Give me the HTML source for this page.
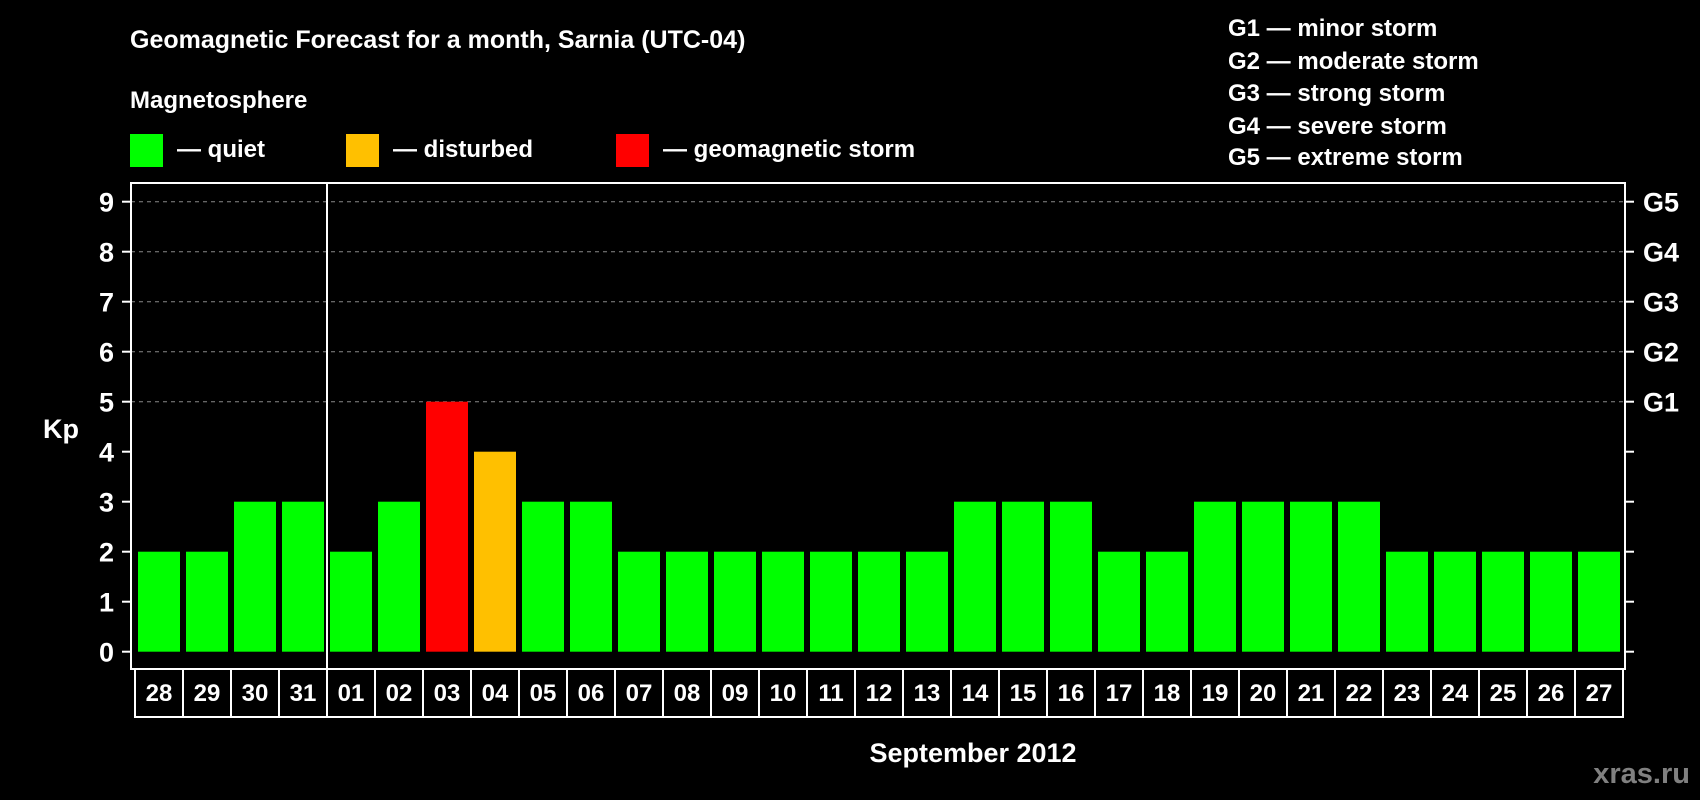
<!DOCTYPE html>
<html><head><meta charset="utf-8"><style>
html,body{margin:0;padding:0;background:#000;}
svg{display:block;font-family:"Liberation Sans",Arial,sans-serif;font-weight:bold;}
</style></head><body>
<svg id="chart" width="1700" height="800" viewBox="0 0 1700 800" xmlns="http://www.w3.org/2000/svg">
<rect width="1700" height="800" fill="#000"/>
<text x="130" y="48" fill="#fff" font-size="25">Geomagnetic Forecast for a month, Sarnia (UTC-04)</text>
<text x="130" y="108" fill="#fff" font-size="24">Magnetosphere</text>
<rect x="130" y="134" width="33" height="33" fill="#00ff00"/>
<text x="177" y="157" fill="#fff" font-size="24">— quiet</text>
<rect x="346" y="134" width="33" height="33" fill="#ffc000"/>
<text x="393" y="157" fill="#fff" font-size="24">— disturbed</text>
<rect x="616" y="134" width="33" height="33" fill="#ff0000"/>
<text x="663" y="157" fill="#fff" font-size="24">— geomagnetic storm</text>
<g fill="#fff" font-size="24">
<text x="1228" y="36">G1 — minor storm</text>
<text x="1228" y="69">G2 — moderate storm</text>
<text x="1228" y="101">G3 — strong storm</text>
<text x="1228" y="134">G4 — severe storm</text>
<text x="1228" y="165">G5 — extreme storm</text>
</g>
<text x="43" y="438" fill="#fff" font-size="27">Kp</text>
<text x="973" y="762" fill="#fff" font-size="27" text-anchor="middle">September 2012</text>
<text x="1690" y="783" fill="#808080" font-size="29" text-anchor="end">xras.ru</text>
<g id="grid"></g><g id="bars"></g><g id="axes"></g>
</svg>
<script>
const days=["28","29","30","31","01","02","03","04","05","06","07","08","09","10","11","12","13","14","15","16","17","18","19","20","21","22","23","24","25","26","27"];
const kp=[2,2,3,3,2,3,5,4,3,3,2,2,2,2,2,2,2,3,3,3,2,2,3,3,3,3,2,2,2,2,2];
const yTicks=[0,1,2,3,4,5,6,7,8,9];
const gLabels=["G1","G2","G3","G4","G5"];
const NS="http://www.w3.org/2000/svg";
const x0=135,slot=48,y0=651.7,unit=50;
function X(i){return x0+i*slot;}
function Y(v){return y0-v*unit;}
function mk(t,a,p){const e=document.createElementNS(NS,t);for(const k in a)e.setAttribute(k,a[k]);p.appendChild(e);return e;}
const grid=document.getElementById('grid'),bars=document.getElementById('bars'),axes=document.getElementById('axes');
[5,6,7,8,9].forEach(v=>{
 const l=mk('line',{x1:131,x2:1625,y1:Y(v),y2:Y(v),stroke:'#888','stroke-width':1,'stroke-dasharray':'4,4'},grid);
 
 
});
kp.forEach((v,i)=>{
 const c=v>=5?'#ff0000':(v>=4?'#ffc000':'#00ff00');
 const r=mk('rect',{x:X(i)+3,y:Y(v),width:42,height:v*unit,fill:c},bars);
 
 
});
const frame=mk('rect',{x:131,y:183,width:1494,height:486,fill:'none',stroke:'#fff','stroke-width':2},axes);


const div=mk('line',{x1:X(4),x2:X(4),y1:183,y2:669,stroke:'#fff','stroke-width':2},axes);


yTicks.forEach(v=>{
 mk('line',{x1:122,x2:131,y1:Y(v),y2:Y(v),stroke:'#fff','stroke-width':2},axes);
 mk('line',{x1:1625,x2:1634,y1:Y(v),y2:Y(v),stroke:'#fff','stroke-width':2},axes);
 const t=mk('text',{x:114,y:Y(v)+10,fill:'#fff','font-size':27,'text-anchor':'end'},axes);
 t.textContent=v;
 
 
});
gLabels.forEach((g,i)=>{
 const t=mk('text',{x:1643,y:Y(5+i)+10,fill:'#fff','font-size':27},axes);
 t.textContent=g;
 
 
});
days.forEach((d,i)=>{
 const b=mk('rect',{x:X(i),y:669,width:slot,height:48,fill:'#000',stroke:'#fff','stroke-width':2},axes);
 
 
 const t=mk('text',{x:X(i)+slot/2,y:701,fill:'#fff','font-size':24,'text-anchor':'middle'},axes);
 t.textContent=d;
 
 
});
</script>
</body></html>
